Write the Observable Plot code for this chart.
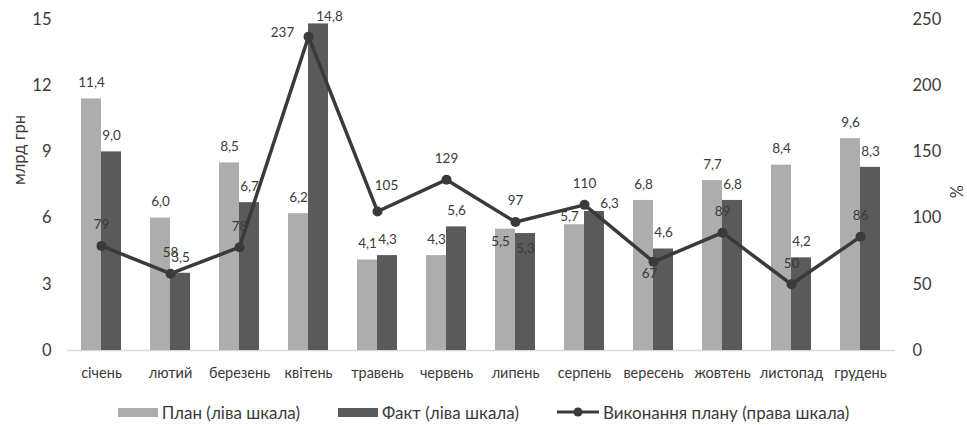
<!DOCTYPE html>
<html lang="uk">
<head>
<meta charset="utf-8">
<script src="https://cdn.jsdelivr.net/npm/d3@7"></script>
<script src="https://cdn.jsdelivr.net/npm/@observablehq/plot@0.6"></script>
<style>
  html, body { margin: 0; padding: 0; background: #fff; }
  body { width: 967px; font-family: Lato, "Open Sans", "Noto Sans", sans-serif; }
  .legend {
    display: flex; justify-content: center; align-items: center;
    gap: 38px; height: 34px; margin-top: 0px;
    font-size: 17px; color: #3a3a3a;
  }
  .legend .item { display: flex; align-items: center; gap: 4px; }
  .legend .sw { display: inline-block; width: 40px; height: 9px; }
</style>
</head>
<body>
<div id="chart"></div>
<div class="legend" id="legend"></div>
<script>
// Місяці, план і факт (млрд грн), виконання плану (%)
const months = ["січень", "лютий", "березень", "квітень", "травень", "червень",
                "липень", "серпень", "вересень", "жовтень", "листопад", "грудень"];
const plan = [11.4, 6.0, 8.5, 6.2, 4.1, 4.3, 5.5, 5.7, 6.8, 7.7, 8.4, 9.6];
const fact = [9.0, 3.5, 6.7, 14.8, 4.3, 5.6, 5.3, 6.3, 4.6, 6.8, 4.2, 8.3];
const execution = [79, 58, 78, 237, 105, 129, 97, 110, 67, 89, 50, 86];
const leftTicks = [0, 3, 6, 9, 12, 15];
const rightTicks = [0, 50, 100, 150, 200, 250];
const leftTitle = "млрд грн";
const rightTitle = "%";
const seriesNames = ["План (ліва шкала)", "Факт (ліва шкала)", "Виконання плану (права шкала)"];

const colors = { plan: "#adadad", fact: "#5a5a5a", line: "#3a3a3a", text: "#3a3a3a" };

// The percentage series shares the left scale: 250 % sits at 15 млрд грн
const leftMax = d3.max(leftTicks), rightMax = d3.max(rightTicks);
const toLeft = v => v * leftMax / rightMax;

const rows = months.map((m, i) => ({ month: m, plan: plan[i], fact: fact[i], pct: execution[i] }));
const fmt = v => v.toFixed(1).replace(".", ",");

// Individual label shifts so labels clear the line and each other
const nudge = {
  "fact|квітень": [11, 9],
  "plan|липень": [-5, 29],
  "fact|липень": [0, 31],
  "plan|серпень": [-5, 8],
  "fact|серпень": [15, 8],
  "pct|квітень": [-26, 17],
  "pct|травень": [9, -5],
  "pct|вересень": [-4, 33]
};

function labels(key, yOf, textOf, baseDx, baseDy) {
  const groups = d3.group(rows, d => (nudge[key + "|" + d.month] || [0, 0]).join(","));
  return Array.from(groups, ([k, data]) => {
    const [nx, ny] = k.split(",").map(Number);
    return Plot.text(data, {
      x: "month", y: yOf, text: textOf,
      dx: baseDx + nx, dy: baseDy + ny,
      fontSize: 13.5, fill: colors.text
    });
  });
}

const chart = Plot.plot({
  width: 967,
  height: 395,
  marginLeft: 67,
  marginRight: 72,
  marginTop: 19,
  marginBottom: 45,
  style: { fontFamily: 'Lato, "Open Sans", "Noto Sans", sans-serif', color: colors.text, background: "#fff" },
  x: { domain: months, paddingInner: 0.42, paddingOuter: 0.21, label: null },
  y: { domain: [0, leftMax] },
  marks: [
    Plot.ruleY([0], { stroke: "#d9d9d9", strokeWidth: 1.5 }),
    Plot.barY(rows, { x: "month", y: "plan", fill: colors.plan, insetRight: 20 }),
    Plot.barY(rows, { x: "month", y: "fact", fill: colors.fact, insetLeft: 20 }),
    Plot.line(rows, { x: "month", y: d => toLeft(d.pct), stroke: colors.line, strokeWidth: 3.5 }),
    Plot.dot(rows, { x: "month", y: d => toLeft(d.pct), r: 5, fill: colors.line }),
    ...labels("plan", "plan", d => fmt(d.plan), -10, -16),
    ...labels("fact", "fact", d => fmt(d.fact), 10, -16),
    ...labels("pct", d => toLeft(d.pct), d => String(d.pct), 0, -21),
    Plot.axisX({ tickSize: 0, tickPadding: 17, fontSize: 14.5, label: null }),
    Plot.axisY({ anchor: "left", ticks: leftTicks, tickSize: 0, tickPadding: 16, fontSize: 16.5, label: null }),
    Plot.axisY({
      anchor: "right", ticks: leftTicks, tickSize: 0, tickPadding: 17, fontSize: 16.5, label: null,
      tickFormat: d => String(Math.round(d * rightMax / leftMax))
    }),
    // Axis titles, rotated along each side
    Plot.text([leftTitle], { frameAnchor: "left", dx: -48, rotate: -90, fontSize: 16.5, fill: colors.text }),
    Plot.text([rightTitle], { frameAnchor: "right", dx: 62, rotate: -90, fontSize: 16.5, fill: colors.text })
  ]
});
document.getElementById("chart").appendChild(chart);

// Legend below the chart
const legend = document.getElementById("legend");
[[seriesNames[0], "bar", colors.plan], [seriesNames[1], "bar", colors.fact], [seriesNames[2], "line", colors.line]]
  .forEach(([name, kind, color]) => {
    const item = document.createElement("span");
    item.className = "item";
    if (kind === "bar") {
      const sw = document.createElement("span");
      sw.className = "sw";
      sw.style.background = color;
      item.appendChild(sw);
    } else {
      const ns = "http://www.w3.org/2000/svg";
      const svg = document.createElementNS(ns, "svg");
      svg.setAttribute("width", 42); svg.setAttribute("height", 12);
      const ln = document.createElementNS(ns, "line");
      ln.setAttribute("x1", 0); ln.setAttribute("x2", 42);
      ln.setAttribute("y1", 6); ln.setAttribute("y2", 6);
      ln.setAttribute("stroke", color); ln.setAttribute("stroke-width", 3);
      const c = document.createElementNS(ns, "circle");
      c.setAttribute("cx", 21); c.setAttribute("cy", 6); c.setAttribute("r", 4.5);
      c.setAttribute("fill", color);
      svg.append(ln, c);
      item.appendChild(svg);
    }
    const t = document.createElement("span");
    t.textContent = name;
    item.appendChild(t);
    legend.appendChild(item);
  });
</script>
</body>
</html>
